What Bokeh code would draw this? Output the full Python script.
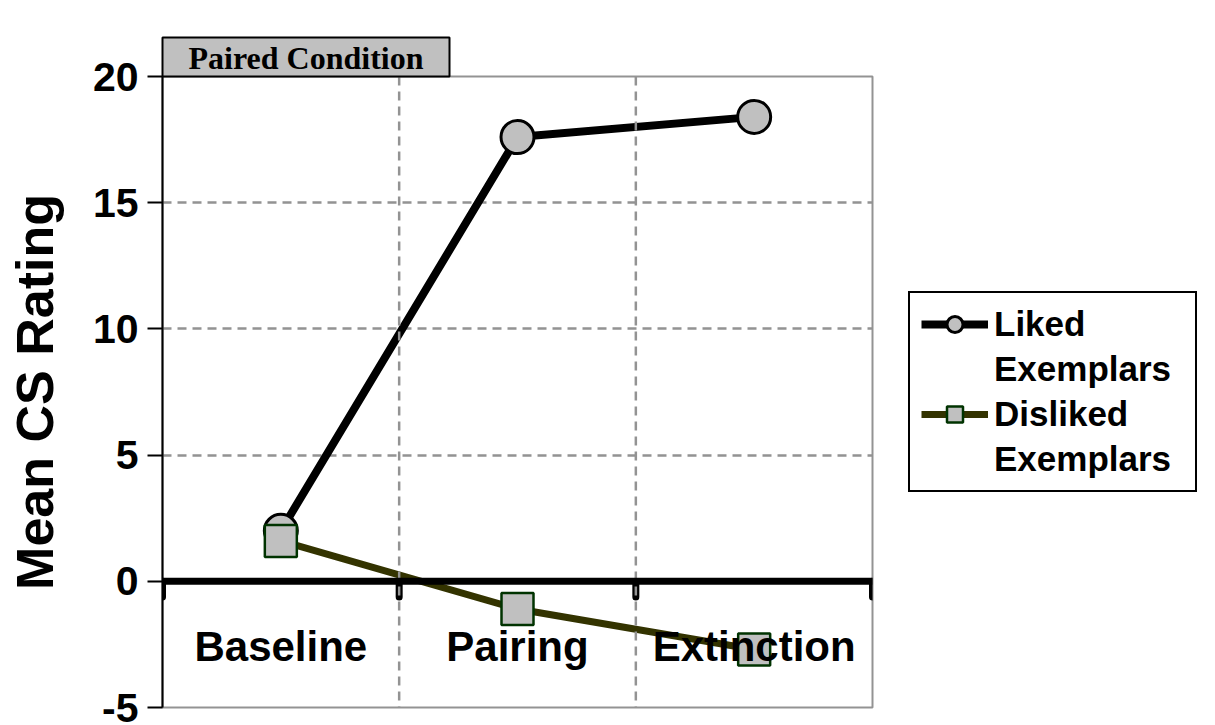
from bokeh.plotting import figure
from bokeh.models import Range1d, FactorRange, Span, Title, Legend, LegendItem
from bokeh.core.properties import value
from bokeh.embed import file_html
from bokeh.resources import INLINE

# ---- data ----
categories = ["Baseline", "Pairing", "Extinction"]
liked = [2.0, 17.6, 18.4]
disliked = [1.6, -1.1, -2.7]
y_ticks = [-5, 0, 5, 10, 15, 20]
title_text = "Paired Condition"
y_label = "Mean CS Rating"
legend_lines = ["Liked", "Exemplars", "Disliked", "Exemplars"]

SANS = "Liberation Sans"
SERIF = "Liberation Serif"
GRID = "#939393"

p = figure(frame_width=710, frame_height=631, x_range=FactorRange(*categories, range_padding=0),
           y_range=Range1d(-5, 20), output_backend="svg", toolbar_location=None,
           x_axis_location=None, min_border_left=162, min_border_right=343,
           min_border_top=76, min_border_bottom=18)
p.background_fill_color = "white"
p.border_fill_color = "white"
p.outline_line_color = GRID
p.outline_line_width = 2

# title box
p.title = Title(text=title_text, align="left", text_font=SERIF, text_font_style="bold",
                text_font_size="32px", text_color="black", standoff=0, offset=0,
                background_fill_color="#c0c0c0", border_line_color="black",
                border_line_alpha=1, border_line_width=2,
                padding=dict(left=26, right=26, top=2, bottom=1))

# y axis
ax = p.yaxis[0]
ax.ticker = y_ticks
ax.major_label_overrides = {-5: "-5"}
ax.axis_label = y_label
ax.axis_label_text_font = SANS
ax.axis_label_text_font_style = "bold"
ax.axis_label_text_font_size = "52px"
ax.axis_label_text_color = "black"
ax.axis_label_standoff = 26
ax.major_label_text_font = SANS
ax.major_label_text_font_style = "bold"
ax.major_label_text_font_size = "41px"
ax.major_label_text_color = "black"
ax.major_label_standoff = 9
ax.axis_line_color = "black"
ax.axis_line_width = 2
ax.major_tick_line_color = "black"
ax.major_tick_line_width = 2
ax.major_tick_out = 15
ax.major_tick_in = 0
ax.minor_tick_line_color = None

# grids
p.xgrid.visible = False
p.ygrid.grid_line_color = GRID
p.ygrid.grid_line_width = 2.5
p.ygrid.grid_line_dash = "9 6"
for xb in [1, 2]:
    p.add_layout(Span(location=xb, dimension="height", line_color=GRID,
                      line_width=2.5, line_dash="9 6"))

# zero line with downward ticks at category boundaries
p.add_layout(Span(location=0, dimension="width", line_color="black", line_width=7))
p.segment(x0=[0, 1, 2, 3], y0=[0, 0, 0, 0], x1=[0, 1, 2, 3], y1=[-0.62] * 4,
          line_color="black", line_width=7, line_cap="round")

# series
l1 = p.line(categories, liked, line_color="black", line_width=8)
l2 = p.line(categories, disliked, line_color="#333300", line_width=7)
m1 = p.scatter(categories, liked, marker="circle", size=33, fill_color="#c0c0c0",
               line_color="black", line_width=3)
m2 = p.scatter(categories, disliked, marker="square", size=32, fill_color="#c0c0c0",
               line_color="#003300", line_width=2.5)

# category labels inside the plot
p.text(x=categories, y=[-2.6] * 3, text=categories, text_font=value(SANS),
       text_font_style="bold", text_font_size="42px", text_align="center",
       text_baseline="middle", text_color="black")

# legend
items = [LegendItem(label=legend_lines[0], renderers=[l1, m1]),
         LegendItem(label=legend_lines[1], renderers=[]),
         LegendItem(label=legend_lines[2], renderers=[l2, m2]),
         LegendItem(label=legend_lines[3], renderers=[])]
leg = Legend(items=items, location=(36, 215), orientation="vertical",
             label_text_font=SANS, label_text_font_style="bold",
             label_text_font_size="35px", label_text_color="black",
             label_height=40, glyph_height=40, glyph_width=67, label_standoff=6,
             label_width=190, spacing=5, padding=11, margin=0,
             border_line_color="black", border_line_alpha=1, border_line_width=2,
             background_fill_color="white", background_fill_alpha=1)
p.add_layout(leg, "right")

open("out.html", "w").write(file_html(p, INLINE))
